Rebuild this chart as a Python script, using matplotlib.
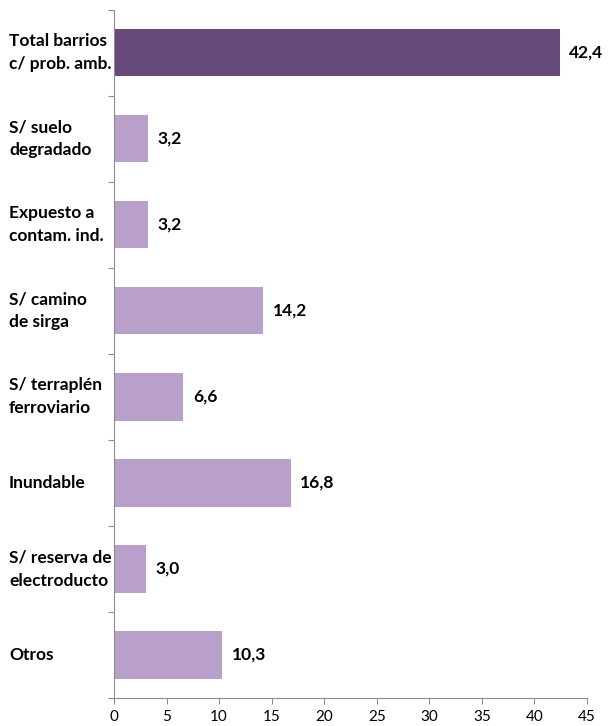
import numpy as np
import matplotlib
matplotlib.use("Agg")
import matplotlib.pyplot as plt

plt.rcParams['font.family'] = ['Lato', 'DejaVu Sans']

categories = ["Total barrios\nc/ prob. amb.", "S/ suelo\ndegradado", "Expuesto a\ncontam. ind.",
              "S/ camino\nde sirga", "S/ terraplén\nferroviario", "Inundable",
              "S/ reserva de\nelectroducto", "Otros"]
values = [42.4, 3.2, 3.2, 14.2, 6.6, 16.8, 3.0, 10.3]
labels = ["42,4", "3,2", "3,2", "14,2", "6,6", "16,8", "3,0", "10,3"]

dark = "#664A7C"
light = "#B9A0CB"
grey = "#8C8C8C"

fig = plt.figure(figsize=(6.1, 7.26), dpi=100)
ax = fig.add_axes([0.187, 0.0386, 0.775, 0.948])

y = np.arange(len(categories))
colors = [dark] + [light] * (len(values) - 1)
ax.barh(y, values, height=0.55, color=colors, edgecolor="none")

for yi, v, lab in zip(y, values, labels):
    ax.text(v + 0.9, yi, lab, va="center", ha="left", fontsize=12.5, fontweight="bold")

ax.set_xlim(0, 45)
ax.set_ylim(len(categories) - 0.5, -0.5)
ax.set_xticks(np.arange(0, 46, 5))
ax.tick_params(axis="x", labelsize=11, length=4, color=grey, pad=5)

# category names as text, tick marks at the boundaries between groups
ax.set_yticks(np.arange(-0.5, len(categories), 1.0))
ax.set_yticklabels([])
ax.tick_params(axis="y", length=4, color=grey)
for yi, name in zip(y, categories):
    ax.text(-0.222, yi, name, transform=ax.get_yaxis_transform(), ha="left", va="center",
            fontsize=12.5, fontweight="bold", linespacing=1.55)

for side in ["top", "right"]:
    ax.spines[side].set_visible(False)
for side in ["left", "bottom"]:
    ax.spines[side].set_color(grey)

fig.savefig("out.png", dpi=100)
